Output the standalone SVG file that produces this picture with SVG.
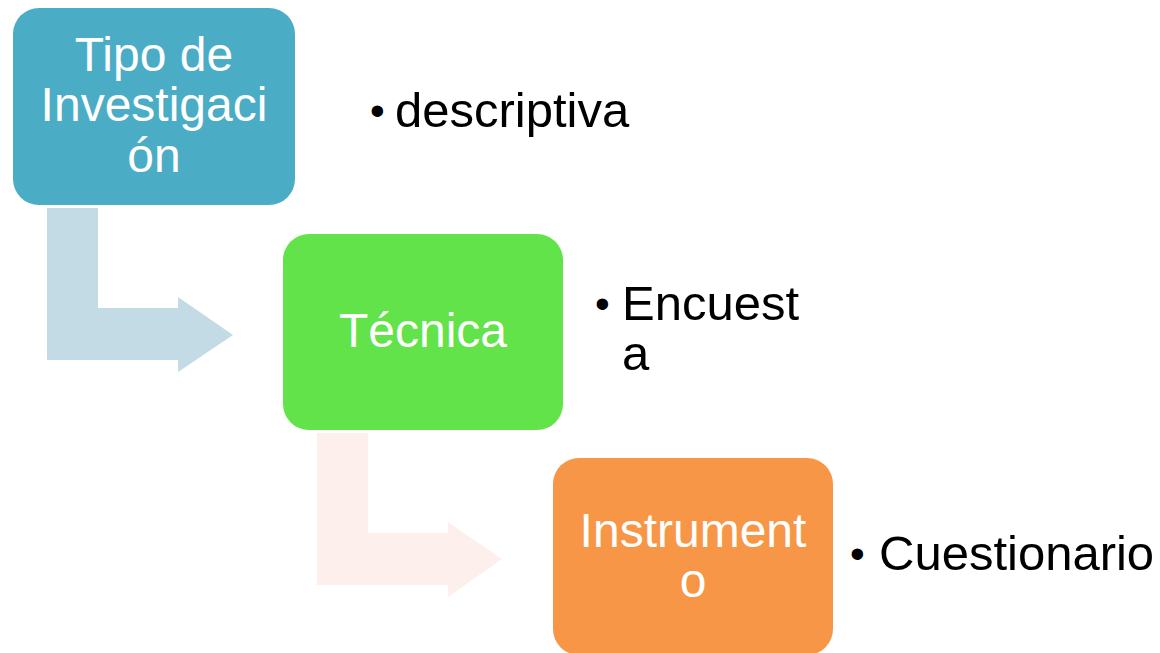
<svg xmlns="http://www.w3.org/2000/svg" width="1160" height="653" viewBox="0 0 1160 653">
<style>
.box-text{font-family:"Liberation Sans",Arial,sans-serif;font-size:48px;fill:#ffffff;text-anchor:middle}
.bul{font-family:"Liberation Sans",Arial,sans-serif;font-size:49px;fill:#000000}
.dot{font-family:"Liberation Sans",Arial,sans-serif;font-size:42px;fill:#000000}
</style>
<rect width="1160" height="653" fill="#ffffff"/>
<g id="connectors">
<path d="M47,208 H98 V308 H178 V297 L233,335 L178,372 V360 H47 Z" fill="#c2dbe4"/>
<path d="M317,433 H368 V533 H448 V522 L502,559 L448,597 V585 H317 Z" fill="#fdf0ec"/>
</g>
<g id="node-tipo">
<rect x="13" y="8" width="282" height="197" rx="26" fill="#4bacc6"/>
<text class="box-text" x="154" y="71">Tipo de</text>
<text class="box-text" x="154" y="121">Investigaci</text>
<text class="box-text" x="154" y="172">ón</text>
</g>
<g id="node-tecnica">
<rect x="283" y="234" width="280" height="196" rx="26" fill="#61e349"/>
<text class="box-text" x="423" y="347">Técnica</text>
</g>
<g id="node-instrumento">
<rect x="553" y="458" width="280" height="197" rx="26" fill="#f79646"/>
<text class="box-text" x="693" y="547">Instrument</text>
<text class="box-text" x="693" y="597">o</text>
</g>
<g id="label-descriptiva">
<text class="dot" x="370" y="125">•</text>
<text class="bul" x="395" y="127">descriptiva</text>
</g>
<g id="label-encuesta">
<text class="dot" x="595" y="318">•</text>
<text class="bul" x="622" y="320">Encuest</text>
<text class="bul" x="622" y="370">a</text>
</g>
<g id="label-cuestionario">
<text class="dot" x="850" y="568">•</text>
<text class="bul" x="879" y="570">Cuestionario</text>
</g>
</svg>
